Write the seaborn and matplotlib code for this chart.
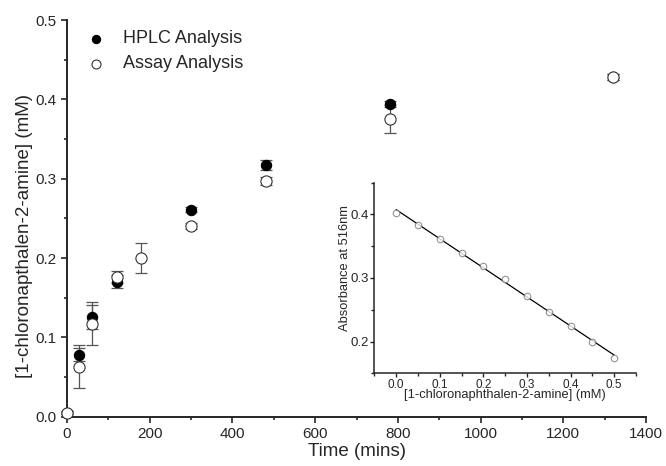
import numpy as np
import pandas as pd
import seaborn as sns
import matplotlib.pyplot as plt
from matplotlib.ticker import MultipleLocator

# main chart data
hplc_time = [0, 30, 60, 120, 300, 480, 780, 1320]
hplc_conc = [0.005, 0.078, 0.126, 0.170, 0.261, 0.317, 0.394, 0.428]
hplc_err = [0.002, 0.008, 0.015, 0.008, 0.003, 0.006, 0.004, 0.004]

assay_time = [0, 30, 60, 120, 180, 300, 480, 780, 1320]
assay_conc = [0.005, 0.063, 0.117, 0.176, 0.200, 0.240, 0.297, 0.375, 0.428]
assay_err = [0.002, 0.027, 0.027, 0.008, 0.019, 0.004, 0.005, 0.018, 0.004]

# calibration inset data
calib_conc = [0.0, 0.05, 0.1, 0.15, 0.2, 0.25, 0.3, 0.35, 0.4, 0.45, 0.5]
calib_abs = [0.402, 0.384, 0.362, 0.340, 0.319, 0.299, 0.272, 0.247, 0.225, 0.200, 0.174]

sns.set_style("ticks")
plt.rcParams["font.family"] = ["Liberation Sans", "DejaVu Sans"]
plt.rcParams["xtick.direction"] = "out"
plt.rcParams["ytick.direction"] = "out"

fig = plt.figure(figsize=(6.66, 4.66), dpi=100)
ax = fig.add_axes([0.1006, 0.1058, 0.8694, 0.8512])

hplc = pd.DataFrame({"time": hplc_time, "conc": hplc_conc})
assay = pd.DataFrame({"time": assay_time, "conc": assay_conc})

ax.errorbar(hplc_time, hplc_conc, yerr=hplc_err, fmt="none", ecolor="#555555",
            elinewidth=0.9, capsize=4, capthick=0.9, zorder=2, clip_on=False)
ax.errorbar(assay_time, assay_conc, yerr=assay_err, fmt="none", ecolor="#555555",
            elinewidth=0.9, capsize=4, capthick=0.9, zorder=2, clip_on=False)
sns.scatterplot(data=hplc, x="time", y="conc", ax=ax, color="black", s=55,
                edgecolor="black", linewidth=0.8, label="HPLC Analysis",
                zorder=3, clip_on=False)
sns.scatterplot(data=assay, x="time", y="conc", ax=ax, color="white", s=65,
                edgecolor="#333333", linewidth=0.8, label="Assay Analysis",
                zorder=4, clip_on=False)

ax.set_xlim(0, 1400)
ax.set_ylim(0, 0.5)
ax.xaxis.set_major_locator(MultipleLocator(200))
ax.xaxis.set_minor_locator(MultipleLocator(100))
ax.yaxis.set_major_locator(MultipleLocator(0.1))
ax.yaxis.set_minor_locator(MultipleLocator(0.05))
ax.set_xlabel("Time (mins)", fontsize=13.5, labelpad=1)
ax.set_ylabel("[1-chloronapthalen-2-amine] (mM)", fontsize=13.5)
ax.yaxis.set_label_coords(-0.058, 0.455)
ax.tick_params(axis="both", which="major", labelsize=11, length=4, width=1.2)
ax.tick_params(axis="both", which="minor", length=2.5, width=1.2)
for s in ["left", "bottom"]:
    ax.spines[s].set_linewidth(1.4)
sns.despine(ax=ax)
ax.legend(loc="upper left", bbox_to_anchor=(-0.009, 1.015), frameon=False,
          fontsize=13, handletextpad=0.5, labelspacing=0.45, markerscale=0.8)

# inset calibration curve
ins = fig.add_axes([0.562, 0.199, 0.393, 0.409])
calib = pd.DataFrame({"conc": calib_conc, "abs": calib_abs})
sns.regplot(data=calib, x="conc", y="abs", ax=ins, ci=None, truncate=True,
            scatter_kws={"s": 22, "facecolor": "white", "edgecolor": "#777777",
                         "linewidths": 0.8, "zorder": 3},
            line_kws={"color": "black", "linewidth": 0.9})
ins.set_xlim(-0.05, 0.55)
ins.set_ylim(0.15, 0.45)
ins.xaxis.set_major_locator(MultipleLocator(0.1))
ins.xaxis.set_minor_locator(MultipleLocator(0.05))
ins.yaxis.set_major_locator(MultipleLocator(0.1))
ins.yaxis.set_minor_locator(MultipleLocator(0.05))
ins.set_xlabel("[1-chloronaphthalen-2-amine] (mM)", fontsize=9.3, labelpad=-1)
ins.set_ylabel("Absorbance at 516nm", fontsize=9.3)
ins.yaxis.set_label_coords(-0.088, 0.55)
ins.tick_params(axis="x", which="major", labelsize=8.5, length=3, width=1, pad=1)
ins.tick_params(axis="y", which="major", labelsize=9.5, length=3, width=1, pad=1)
ins.tick_params(axis="both", which="minor", length=2, width=1)
for s in ["left", "bottom"]:
    ins.spines[s].set_linewidth(1.1)
ins.patch.set_alpha(0)
sns.despine(ax=ins)

fig.savefig("out.png", dpi=100)
